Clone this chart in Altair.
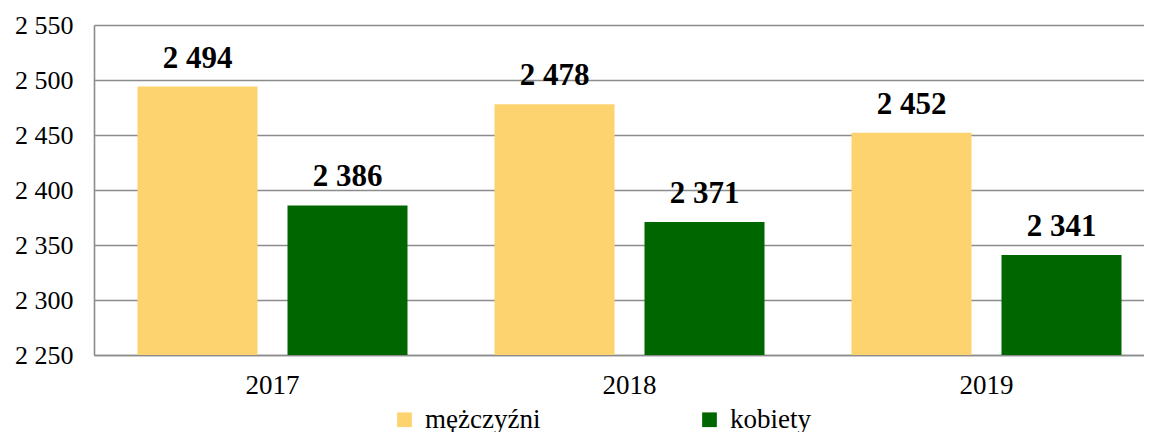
import altair as alt
import pandas as pd

years = ["2017", "2018", "2019"]
series = ["mężczyźni", "kobiety"]
men = [2494, 2478, 2452]
women = [2386, 2371, 2341]
colors = ["#FCD36F", "#006600"]

rows = []
for i, y in enumerate(years):
    rows.append({"rok": y, "plec": series[0], "wartosc": men[i]})
    rows.append({"rok": y, "plec": series[1], "wartosc": women[i]})
df = pd.DataFrame(rows)

FONT = "'Times New Roman', 'Liberation Serif', Times, serif"

x = alt.X("rok:N", sort=years, scale=alt.Scale(range=[0, 1071], paddingInner=0, paddingOuter=0),
          axis=alt.Axis(title=None, labelAngle=0, ticks=False, labelFontSize=27, labelFont=FONT,
                        labelColor="black", labelPadding=17, domainColor="#8c8c8c", domainWidth=1.6,
                        grid=False))
xo = alt.XOffset("plec:N", sort=series, scale=alt.Scale(paddingInner=0.2, paddingOuter=0.29))
y = alt.Y("wartosc:Q", scale=alt.Scale(domain=[2250, 2550], zero=False, nice=False),
          axis=alt.Axis(title=None, values=list(range(2250, 2551, 50)), ticks=False,
                        labelFontSize=26, labelFont=FONT, labelColor="black", labelPadding=21,
                        labelExpr="replace(format(datum.value, ','), ',', ' ')",
                        domainColor="#8c8c8c", domainWidth=1.6,
                        gridColor="#8c8c8c", gridWidth=1.6))

bars = alt.Chart(df).mark_bar().encode(
    x=x, xOffset=xo, y=y, y2=alt.datum(2250),
    color=alt.Color("plec:N", sort=series, scale=alt.Scale(domain=series, range=colors),
                    legend=alt.Legend(title=None, orient="none", legendX=297, legendY=381,
                                      direction="horizontal", symbolType="square", symbolSize=216,
                                      symbolStrokeWidth=0, labelFont=FONT, labelFontSize=27,
                                      labelColor="black", labelOffset=7, columnPadding=155,
                                      padding=0)),
)

labels = alt.Chart(df).transform_calculate(
    lab="replace(format(datum.wartosc, ','), ',', ' ')"
).mark_text(font=FONT, fontSize=31, fontWeight="bold", baseline="alphabetic", dy=-19, color="black").encode(
    x=x, xOffset=xo, y=y, text="lab:N"
)

chart = alt.layer(bars, labels).properties(
    width=1050, height=330,
    autosize=alt.AutoSizeParams(type="none"),
    padding={"left": 86, "top": 17, "right": 0, "bottom": 77},
    title=alt.TitleParams("2017-2019", anchor="start", align="right", dx=31, dy=24, font=FONT,
                          fontSize=31, fontWeight="bold", color="black", baseline="alphabetic",
                          offset=0, frame="group"),
).configure_view(stroke=None).configure_axis(gridCap="butt")

chart.save("out.html", embed_options={"renderer": "svg", "actions": False})
